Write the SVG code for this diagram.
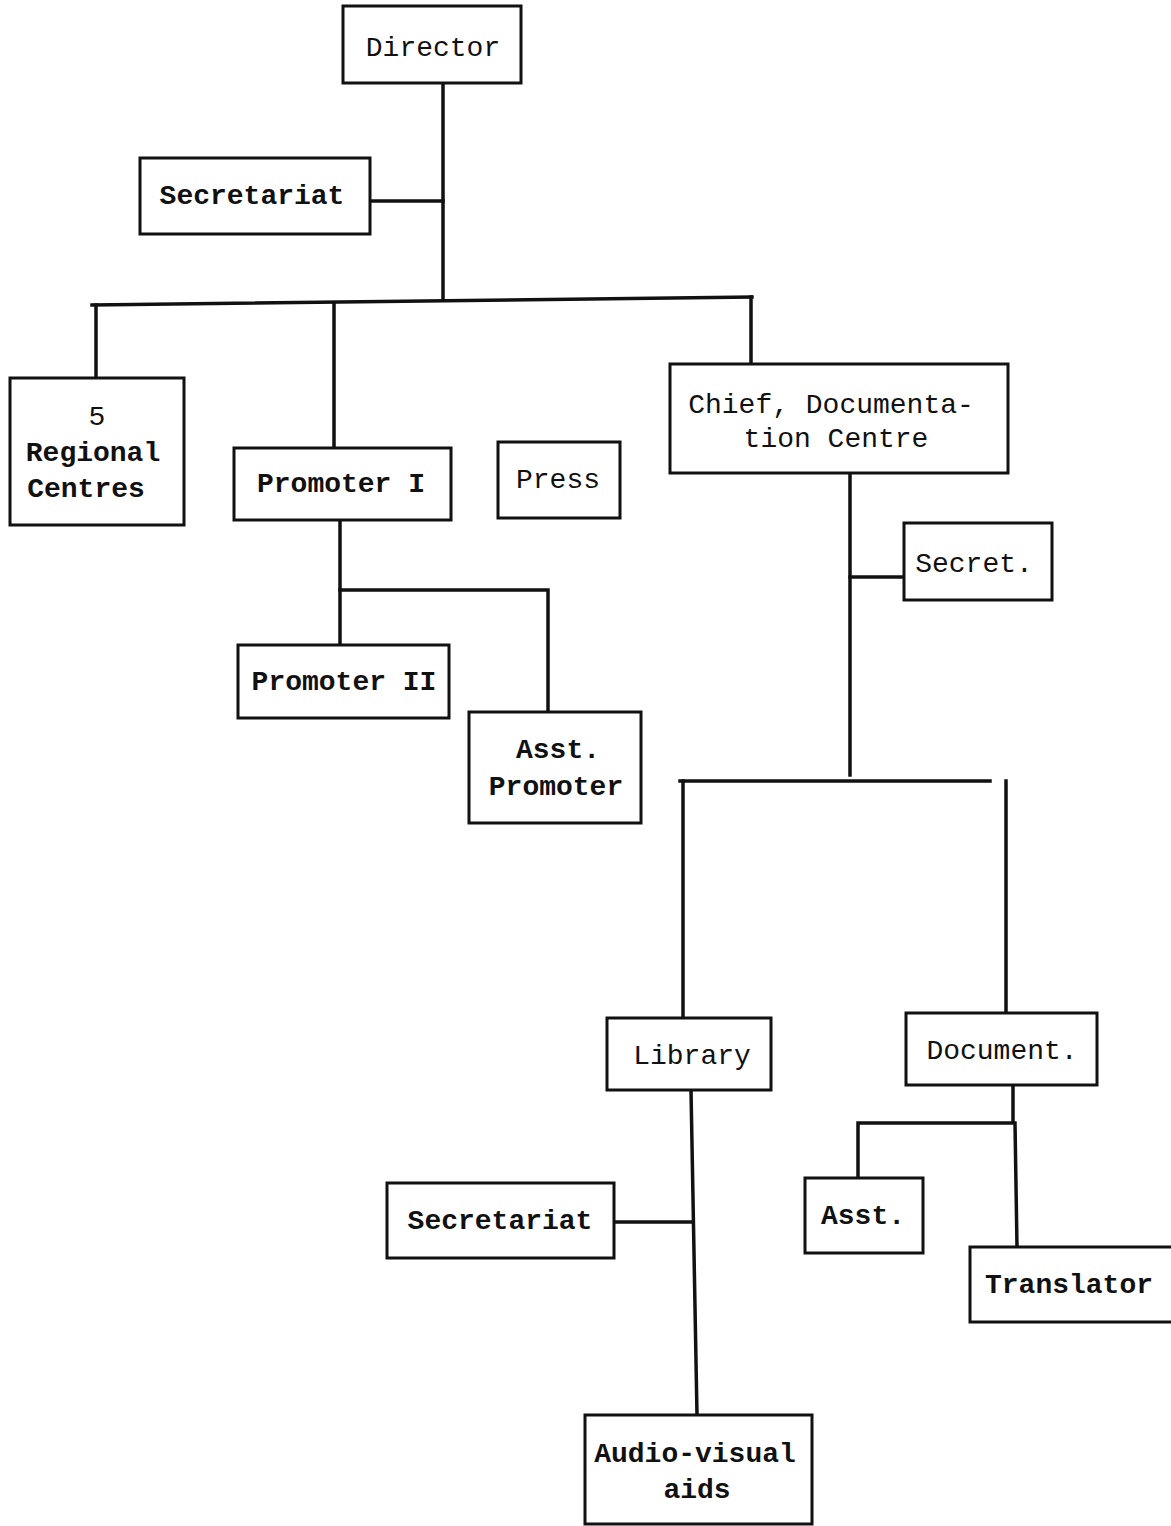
<svg xmlns="http://www.w3.org/2000/svg" width="1171" height="1526" viewBox="0 0 1171 1526">
<style>
.box{fill:#fff;stroke:#111;stroke-width:3}
.c{fill:none;stroke:#111;stroke-width:3.5;stroke-linecap:square}
text{font-family:"Liberation Mono","Courier New",monospace;font-size:28px;fill:#111;text-anchor:middle}
.b{font-weight:bold}
</style>
<rect width="1171" height="1526" fill="#fff"/>
<g id="connectors">
<path class="c" d="M443 83V300"/>
<path class="c" d="M370 201H443"/>
<path class="c" d="M92 305L752 297"/>
<path class="c" d="M96 305V378"/>
<path class="c" d="M334 303V448"/>
<path class="c" d="M751 297V364"/>
<path class="c" d="M340 520V645"/>
<path class="c" d="M340 590H548V712"/>
<path class="c" d="M850 473V775"/>
<path class="c" d="M850 577H904"/>
<path class="c" d="M680 781H990"/>
<path class="c" d="M683 781V1018"/>
<path class="c" d="M1006 781V1013"/>
<path class="c" d="M691 1090L697 1415"/>
<path class="c" d="M614 1222H692"/>
<path class="c" d="M1013 1085V1122" stroke-width="2"/>
<path class="c" d="M858 1178V1123H1015L1017 1247"/>
</g>
<g id="director"><rect class="box" x="343" y="6" width="178" height="77"/><text x="433" y="56">Director</text></g>
<g id="secretariat1"><rect class="box" x="140" y="158" width="230" height="76"/><text class="b" x="252" y="204">Secretariat</text></g>
<g id="regional"><rect class="box" x="10" y="378" width="174" height="147"/><text x="97" y="425">5</text><text class="b" x="93" y="461">Regional</text><text class="b" x="86" y="497">Centres</text></g>
<g id="promoter1"><rect class="box" x="234" y="448" width="217" height="72"/><text class="b" x="341" y="492">Promoter I</text></g>
<g id="press"><rect class="box" x="498" y="442" width="122" height="76"/><text x="558" y="488">Press</text></g>
<g id="chief"><rect class="box" x="670" y="364" width="338" height="109"/><text x="831" y="413">Chief, Documenta-</text><text x="836" y="447">tion Centre</text></g>
<g id="promoter2"><rect class="box" x="238" y="645" width="211" height="73"/><text class="b" x="344" y="690">Promoter II</text></g>
<g id="asstpromoter"><rect class="box" x="469" y="712" width="172" height="111"/><text class="b" x="558" y="758">Asst.</text><text class="b" x="556" y="795">Promoter</text></g>
<g id="secret"><rect class="box" x="904" y="523" width="148" height="77"/><text x="974" y="572">Secret.</text></g>
<g id="library"><rect class="box" x="607" y="1018" width="164" height="72"/><text x="692" y="1064">Library</text></g>
<g id="document"><rect class="box" x="906" y="1013" width="191" height="72"/><text x="1002" y="1059">Document.</text></g>
<g id="secretariat2"><rect class="box" x="387" y="1183" width="227" height="75"/><text class="b" x="500" y="1229">Secretariat</text></g>
<g id="asst"><rect class="box" x="805" y="1178" width="118" height="75"/><text class="b" x="863" y="1224">Asst.</text></g>
<g id="translator"><rect class="box" x="970" y="1247" width="204" height="75"/><text class="b" x="1069" y="1293">Translator</text></g>
<g id="audiovisual"><rect class="box" x="585" y="1415" width="227" height="109"/><text class="b" x="695" y="1462">Audio-visual</text><text class="b" x="697" y="1498">aids</text></g>
</svg>
